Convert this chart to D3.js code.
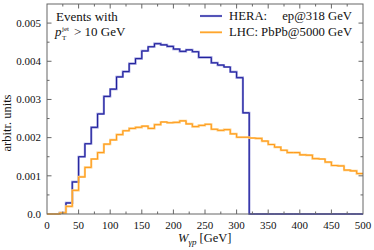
<!DOCTYPE html>
<html>
<head>
<meta charset="utf-8">
<script src="https://cdn.jsdelivr.net/npm/d3@7"></script>
<style>
  body { margin: 0; background: #fff; }
</style>
</head>
<body>
<svg id="chart" width="374" height="250" font-family="Liberation Serif, DejaVu Serif, serif"></svg>
<script>
// bin edges every 10 GeV, 0..500
const binEdges = d3.range(0, 500, 10)

// HERA ep@318 GeV, one value per bin
const hera = [
  0, 0, 0.00003, 0.00029, 0.00084, 0.0015, 0.00184, 0.00227, 0.00262, 0.00308,
  0.00327, 0.00359, 0.00373, 0.00394, 0.00407, 0.00427, 0.00438, 0.00446, 0.00443, 0.00439,
  0.00432, 0.00426, 0.0043, 0.00425, 0.0041, 0.0041, 0.00396, 0.0039, 0.00385, 0.00372,
  0.00357, 0.00265, 0, 0, 0, 0, 0, 0, 0, 0,
  0, 0, 0, 0, 0, 0, 0, 0, 0, 0
]

// LHC PbPb@5000 GeV
const lhc = [
  0, 0, 0.00003, 0.0002, 0.00062, 0.00097, 0.00122, 0.00144, 0.00161, 0.00183,
  0.00194, 0.00208, 0.00218, 0.00224, 0.00227, 0.0023, 0.00224, 0.00234, 0.00241, 0.00239,
  0.0024, 0.00244, 0.00236, 0.00229, 0.00232, 0.00235, 0.00222, 0.00219, 0.00221, 0.0021,
  0.00201, 0.00201, 0.00199, 0.00198, 0.00191, 0.00182, 0.00175, 0.00167, 0.00161, 0.00161,
  0.00155, 0.00154, 0.00145, 0.00144, 0.00136, 0.00127, 0.00126, 0.00115, 0.00113, 0.00106
]

const xTicks = d3.range(0, 501, 50)
const xMinor = d3.range(25, 500, 50)
const yTicks = [0, 0.001, 0.002, 0.003, 0.004, 0.005]
const yTickLabels = ["0.0", "0.001", "0.002", "0.003", "0.004", "0.005"]
const yMinor = [0.0005, 0.0015, 0.0025, 0.0035, 0.0045]

const margin = { left: 47, right: 11, top: 4, bottom: 36 }
const width = 374
const height = 250

const svg = d3.select("#chart")

const x = d3.scaleLinear()
  .domain([0, 500])
  .range([margin.left, width - margin.right])

const y = d3.scaleLinear()
  .domain([0, 0.0055])
  .range([height - margin.bottom, margin.top])

const frameColor = "#666"
const textColor = "#111"

// histograms as step lines
const toSteps = vals => binEdges.map((e, i) => [e, vals[i]]).concat([[500, vals[vals.length - 1]]])

const line = d3.line()
  .x(d => x(d[0]))
  .y(d => y(d[1]))
  .curve(d3.curveStepAfter)

const series = [
  { data: hera, light: "#8a8ad6", dark: "#1e1e9a" },
  { data: lhc, light: "#ffcb7a", dark: "#ff9b1c" }
]

const plot = svg.append("g")
series.forEach(s => {
  plot.append("path")
    .attr("d", line(toSteps(s.data)))
    .attr("fill", "none")
    .attr("stroke", s.light)
    .attr("stroke-width", 2.2)
  plot.append("path")
    .attr("d", line(toSteps(s.data)))
    .attr("fill", "none")
    .attr("stroke", s.dark)
    .attr("stroke-width", 1)
})

// frame
svg.append("rect")
  .attr("x", x(0))
  .attr("y", y(0.0055))
  .attr("width", x(500) - x(0))
  .attr("height", y(0) - y(0.0055))
  .attr("fill", "none")
  .attr("stroke", frameColor)
  .attr("stroke-width", 1)

// inward ticks on all sides
const ticks = svg.append("g").attr("stroke", frameColor).attr("stroke-width", 1)
const addX = (vals, len) => vals.forEach(v => {
  ticks.append("line").attr("x1", x(v)).attr("x2", x(v)).attr("y1", y(0)).attr("y2", y(0) - len)
  ticks.append("line").attr("x1", x(v)).attr("x2", x(v)).attr("y1", y(0.0055)).attr("y2", y(0.0055) + len)
})
const addY = (vals, len) => vals.forEach(v => {
  ticks.append("line").attr("y1", y(v)).attr("y2", y(v)).attr("x1", x(0)).attr("x2", x(0) + len)
  ticks.append("line").attr("y1", y(v)).attr("y2", y(v)).attr("x1", x(500)).attr("x2", x(500) - len)
})
addX(xTicks.slice(1, -1), 4.5)
addX(xMinor, 2.5)
addY(yTicks.slice(1), 4.5)
addY(yMinor, 2.5)

// tick labels
svg.append("g")
  .attr("font-size", 11)
  .attr("fill", textColor)
  .attr("text-anchor", "middle")
  .selectAll("text")
  .data(xTicks)
  .join("text")
  .attr("x", d => x(d))
  .attr("y", 229)
  .text(d => d)

svg.append("g")
  .attr("font-size", 11)
  .attr("fill", textColor)
  .attr("text-anchor", "end")
  .selectAll("text")
  .data(yTicks)
  .join("text")
  .attr("x", 41)
  .attr("y", d => y(d))
  .attr("dy", "0.35em")
  .text((d, i) => yTickLabels[i])

// axis titles
const xt = svg.append("text")
  .attr("font-size", 12.5)
  .attr("fill", textColor)
  .attr("x", 178)
  .attr("y", 242)
xt.append("tspan").attr("font-style", "italic").text("W")
xt.append("tspan").attr("font-size", 9).attr("dy", 3).attr("font-style", "italic").text("γp")
xt.append("tspan").attr("dy", -3).text(" [GeV]")

svg.append("text")
  .attr("font-size", 12.5)
  .attr("fill", textColor)
  .attr("text-anchor", "middle")
  .attr("transform", "translate(11,123) rotate(-90)")
  .text("arbitr. units")

// annotation
svg.append("text")
  .attr("font-size", 13)
  .attr("fill", textColor)
  .attr("x", 56)
  .attr("y", 21)
  .text("Events with")

svg.append("text")
  .attr("font-size", 13).attr("fill", textColor).attr("font-style", "italic")
  .attr("x", 55).attr("y", 36).text("p")
svg.append("text")
  .attr("font-size", 7).attr("fill", textColor)
  .attr("x", 62).attr("y", 30.5).text("jet")
svg.append("text")
  .attr("font-size", 7).attr("fill", textColor)
  .attr("x", 62).attr("y", 39.5).text("T")
svg.append("text")
  .attr("font-size", 13).attr("fill", textColor)
  .attr("x", 74).attr("y", 36).text("> 10 GeV")

// legend
const legend = [
  { left: "HERA:", right: "ep@318 GeV", color: series[0] },
  { left: "LHC: PbPb@5000 GeV", right: null, color: series[1] }
]
legend.forEach((l, i) => {
  const ly = 16 + i * 16.3
  svg.append("line")
    .attr("x1", 200).attr("x2", 222).attr("y1", ly).attr("y2", ly)
    .attr("stroke", l.color.light).attr("stroke-width", 2.2)
  svg.append("line")
    .attr("x1", 200).attr("x2", 222).attr("y1", ly).attr("y2", ly)
    .attr("stroke", l.color.dark).attr("stroke-width", 1)
  svg.append("text")
    .attr("font-size", 12.7)
    .attr("fill", textColor)
    .attr("x", 229)
    .attr("y", ly + 4)
    .text(l.left)
  if (l.right) {
    svg.append("text")
      .attr("font-size", 12.7)
      .attr("fill", textColor)
      .attr("text-anchor", "end")
      .attr("x", 352)
      .attr("y", ly + 4)
      .text(l.right)
  }
})
</script>
</body>
</html>
